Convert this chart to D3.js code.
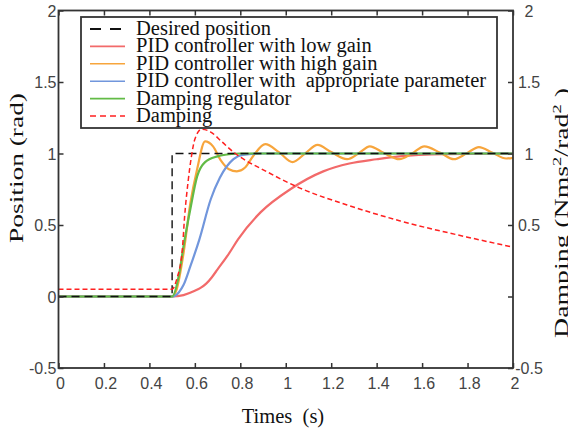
<!DOCTYPE html>
<html>
<head>
<meta charset="utf-8">
<script src="https://cdn.jsdelivr.net/npm/d3@7"></script>
<style>
body { margin: 0; background: #fff; }
svg { display: block; }
</style>
</head>
<body>
<div id="chart"></div>
<script>
// series data
var desiredT = [0, 0.5, 0.5, 2];
var desiredV = [0, 0, 1, 1];

var lowT = [0, 0.5, 0.55, 0.6, 0.625, 0.65, 0.675, 0.70, 0.75, 0.79, 0.89, 1.02, 1.165, 1.28, 1.4, 1.5, 1.7, 2.0];
var lowV = [0, 0, 0.01, 0.04, 0.06, 0.09, 0.135, 0.19, 0.30, 0.40, 0.59, 0.75, 0.875, 0.93, 0.96, 0.98, 0.995, 1.0];

var highT = [0, 0.5, 0.52, 0.55, 0.58, 0.61, 0.645, 0.68, 0.715, 0.75, 0.785, 0.82, 0.86, 0.91, 0.97,
    1.03, 1.085, 1.14, 1.2, 1.27, 1.32, 1.37, 1.43, 1.5, 1.555, 1.61, 1.68, 1.74, 1.795, 1.85, 1.91, 1.97, 2.0];
var highV = [0, 0, 0.05, 0.3, 0.65, 0.89, 1.085, 1.05, 0.95, 0.89, 0.875, 0.9, 0.99, 1.065, 1.01,
    0.94, 1.0, 1.06, 1.01, 0.96, 1.0, 1.05, 1.005, 0.96, 1.0, 1.05, 1.005, 0.96, 1.0, 1.045, 1.005, 0.965, 0.97];

var apprT = [0, 0.5, 0.53, 0.55, 0.58, 0.62, 0.67, 0.71, 0.77, 0.81, 0.9, 2.0];
var apprV = [0, 0, 0.03, 0.08, 0.21, 0.40, 0.68, 0.83, 0.96, 0.99, 1.0, 1.0];

var regT = [0, 0.5, 0.53, 0.55, 0.58, 0.61, 0.645, 0.7, 0.75, 0.8, 2.0];
var regV = [0, 0, 0.15, 0.35, 0.61, 0.84, 0.94, 0.98, 0.995, 1.0, 1.0];

var dampT = [0, 0.5, 0.52, 0.545, 0.555, 0.57, 0.585, 0.60, 0.63, 0.67, 0.72, 0.77, 0.92, 1.06, 1.27, 1.5, 1.8, 2.0];
var dampV = [0.05, 0.05, 0.12, 0.33, 0.56, 0.80, 0.98, 1.10, 1.17, 1.15, 1.08, 1.01, 0.87, 0.76, 0.64, 0.53, 0.415, 0.345];

var xTicks = [0, 0.2, 0.4, 0.6, 0.8, 1, 1.2, 1.4, 1.6, 1.8, 2];
var yTicks = [-0.5, 0, 0.5, 1, 1.5, 2];
var yRightTicks = [-0.5, 0, 0.5, 1, 1.5, 2];
var yRightLabels = ['-0.5', '', '0.5', '1', '1.5', '2'];

var legendNames = ['Desired position', 'PID controller with low gain', 'PID controller with high gain',
    'PID controller with  appropriate parameter', 'Damping regulator', 'Damping'];

function zip(t, v) {
    return t.map(function (d, i) { return [d, v[i]]; });
}

var series = [
    { pts: zip(desiredT, desiredV), color: '#111', width: 1.4, dash: '8,5', curve: d3.curveLinear },
    { pts: zip(lowT, lowV), color: '#f26a6a', width: 2.2, dash: null, curve: d3.curveMonotoneX },
    { pts: zip(highT, highV), color: '#f7a53c', width: 2.2, dash: null, curve: d3.curveMonotoneX },
    { pts: zip(apprT, apprV), color: '#7196dc', width: 2.2, dash: null, curve: d3.curveMonotoneX },
    { pts: zip(regT, regV), color: '#62bb46', width: 2.2, dash: null, curve: d3.curveMonotoneX },
    { pts: zip(dampT, dampV), color: '#ff2020', width: 1.5, dash: '5,3', curve: d3.curveMonotoneX }
];

var width = 568, height = 430;
// plot box (window.top is reserved, so use a prefix)
var pLeft = 58.5, pRight = 513, pTop = 10.5, pBottom = 368;

var svg = d3.select('#chart')
    .append('svg')
        .attr('width', width)
        .attr('height', height);

var x = d3.scaleLinear().domain([0, 2]).range([pLeft, pRight]);
var y = d3.scaleLinear().domain([-0.5, 2]).range([pBottom, pTop]);

svg.append('defs').append('clipPath')
    .attr('id', 'plot-clip')
    .append('rect')
        .attr('x', pLeft).attr('y', pTop)
        .attr('width', pRight - pLeft).attr('height', pBottom - pTop);

var line = d3.line()
    .x(function (d) { return x(d[0]); })
    .y(function (d) { return y(d[1]); });

// curves: dashed desired drawn after the solids so it sits on top of the flat parts
var order = [1, 2, 3, 4, 0, 5];
var plot = svg.append('g').attr('clip-path', 'url(#plot-clip)');
order.forEach(function (k) {
    var s = series[k];
    plot.append('path')
        .attr('d', line.curve(s.curve)(s.pts))
        .attr('fill', 'none')
        .attr('stroke', s.color)
        .attr('stroke-width', s.width)
        .attr('stroke-dasharray', s.dash);
});

// axes (ticks pointing inward, matlab style)
var axisColor = '#333';
var tickFont = '"Liberation Sans", Arial, sans-serif';

svg.append('g')
    .attr('transform', 'translate(0,' + pBottom + ')')
    .call(d3.axisTop(x).tickValues(xTicks).tickSize(5).tickFormat(''));
svg.append('g')
    .attr('transform', 'translate(0,' + pTop + ')')
    .call(d3.axisBottom(x).tickValues(xTicks).tickSize(5).tickFormat(''));
svg.append('g')
    .attr('transform', 'translate(' + pLeft + ',0)')
    .call(d3.axisRight(y).tickValues(yTicks).tickSize(5).tickFormat(''));
svg.append('g')
    .attr('transform', 'translate(' + pRight + ',0)')
    .call(d3.axisLeft(y).tickValues(yRightTicks).tickSize(5).tickFormat(''));

svg.selectAll('.domain').remove();
svg.selectAll('.tick line').attr('stroke', axisColor).attr('stroke-width', 1.5);

svg.append('rect')
    .attr('x', pLeft).attr('y', pTop)
    .attr('width', pRight - pLeft).attr('height', pBottom - pTop)
    .attr('fill', 'none')
    .attr('stroke', axisColor)
    .attr('stroke-width', 1.8);

// tick labels
svg.selectAll('.xlab')
    .data(xTicks)
    .enter().append('text')
        .attr('x', function (d) { return x(d) + 2; })
        .attr('y', pBottom + 21)
        .attr('text-anchor', 'middle')
        .style('font-family', tickFont).style('font-size', '16px').style('fill', '#444')
        .text(function (d) { return d; });

svg.selectAll('.ylab')
    .data(yTicks)
    .enter().append('text')
        .attr('x', pLeft - 2)
        .attr('y', function (d) { return y(d) + 6; })
        .attr('text-anchor', 'end')
        .style('font-family', tickFont).style('font-size', '16px').style('fill', '#444')
        .text(function (d) { return d; });

svg.selectAll('.yrlab')
    .data(yRightTicks)
    .enter().append('text')
        .attr('x', pRight + 16)
        .attr('y', function (d) { return y(d) + 6; })
        .attr('text-anchor', 'middle')
        .style('font-family', tickFont).style('font-size', '16px').style('fill', '#444')
        .text(function (d, i) { return yRightLabels[i]; });

// axis titles (the source figure is stretched vertically, so rotated titles get stretched too)
var serif = '"Liberation Serif", "Times New Roman", serif';

function stretchTo(sel, cx, cy, len) {
    var w = sel.node().getComputedTextLength();
    sel.attr('transform', 'translate(' + cx + ',' + cy + ') rotate(-90) scale(' + (len / w) + ',1)');
}

var lt = svg.append('text')
    .attr('text-anchor', 'middle')
    .style('font-family', serif).style('font-size', '18px').style('fill', '#111')
    .text('Position (rad)');
stretchTo(lt, 23, 168, 150);

svg.append('text')
    .attr('x', 283).attr('y', 423)
    .attr('text-anchor', 'middle')
    .style('font-family', serif).style('font-size', '20.5px').style('fill', '#111')
    .style('white-space', 'pre')
    .text('Times  (s)');

var rt = svg.append('text')
    .attr('text-anchor', 'middle')
    .style('font-family', serif).style('font-size', '18px').style('fill', '#111')
    .style('white-space', 'pre');
rt.append('tspan').text('Damping (Nms');
rt.append('tspan').attr('dy', -7).style('font-size', '12px').text('2');
rt.append('tspan').attr('dy', 7).text('/rad');
rt.append('tspan').attr('dy', -7).style('font-size', '12px').text('2');
rt.append('tspan').attr('dy', 7).text(' )');
stretchTo(rt, 568, 213, 250);

// legend
var legend = svg.append('g');
legend.append('rect')
    .attr('x', 81).attr('y', 17)
    .attr('width', 416).attr('height', 111)
    .attr('fill', '#fff')
    .attr('stroke', axisColor)
    .attr('stroke-width', 1.8);

legendNames.forEach(function (name, i) {
    var s = series[i],
        by = 35 + i * 17.4;
    legend.append('line')
        .attr('x1', 90).attr('x2', 125)
        .attr('y1', by - 6).attr('y2', by - 6)
        .attr('stroke', s.color)
        .attr('stroke-width', i === 0 ? 2 : 1.6)
        .attr('stroke-dasharray', i === 0 ? '11,9' : (i === 5 ? '6,4' : null));
    legend.append('text')
        .attr('x', 136).attr('y', by)
        .style('font-family', serif).style('font-size', '20.5px').style('fill', '#111')
        .style('white-space', 'pre')
        .text(name);
});
</script>
</body>
</html>
